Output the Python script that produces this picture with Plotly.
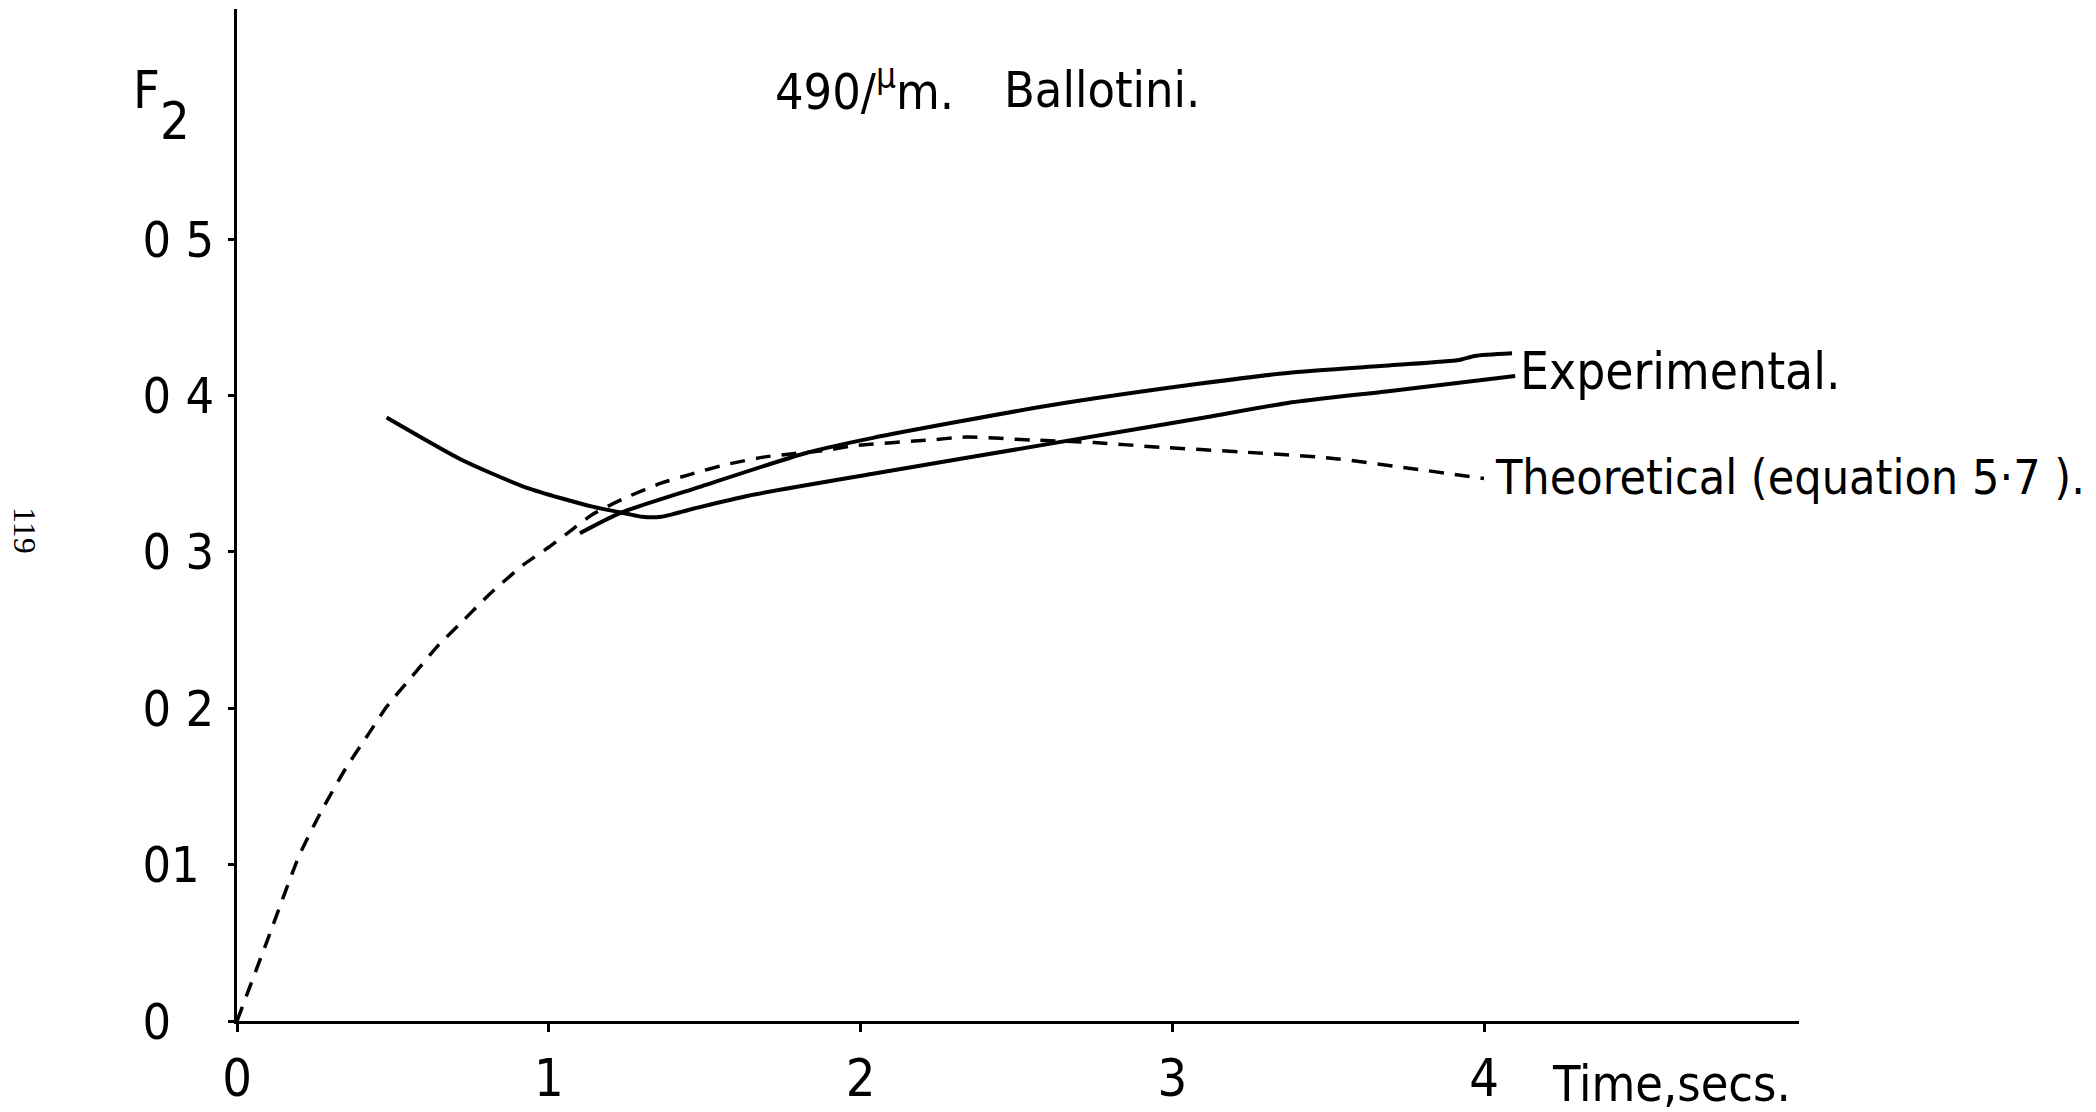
import plotly.graph_objects as go

# --- data -----------------------------------------------------------------
# Experimental run A: starts high, dips to a minimum near 1.3 s, then rises
exp_a_time = [0.48, 0.72, 0.93, 1.14, 1.25, 1.30, 1.36, 1.46, 1.64, 2.04, 2.60, 3.09, 3.37, 3.70, 4.10]
exp_a_f2 = [0.386, 0.359, 0.341, 0.329, 0.3245, 0.3225, 0.3225, 0.3275, 0.336, 0.350, 0.369, 0.3855, 0.3953, 0.403, 0.4126]

# Experimental run B: starts at 1.1 s and rises steadily
exp_b_time = [1.10, 1.23, 1.49, 1.82, 2.04, 2.60, 3.09, 3.37, 3.70, 3.92, 3.97, 4.09]
exp_b_f2 = [0.312, 0.325, 0.342, 0.363, 0.373, 0.3935, 0.4077, 0.4145, 0.4194, 0.4228, 0.4254, 0.4271]

# Theoretical curve (equation 5.7)
theory_time = [0, 0.10, 0.20, 0.27, 0.35, 0.42, 0.48, 0.56, 0.64, 0.73, 0.81, 0.92, 1.00, 1.06,
               1.14, 1.25, 1.36, 1.46, 1.57, 1.70, 1.79, 1.89, 1.98, 2.22, 2.34, 2.55, 2.75,
               2.96, 3.22, 3.51, 3.80, 4.00]
theory_f2 = [0, 0.053, 0.106, 0.134, 0.162, 0.183, 0.201, 0.220, 0.239, 0.257, 0.273, 0.292,
             0.303, 0.312, 0.324, 0.335, 0.344, 0.350, 0.356, 0.361, 0.363, 0.365, 0.368,
             0.3716, 0.3735, 0.3716, 0.370, 0.367, 0.364, 0.360, 0.3525, 0.347]

x_tick_vals = [0, 1, 2, 3, 4]
x_tick_text = ["0", "1", "2", "3", "4"]
y_tick_vals = [0, 0.1, 0.2, 0.3, 0.4, 0.5]
y_tick_text = ["0", "01", "0 2", "0 3", "0 4", "0 5"]

# --- layout geometry ------------------------------------------------------
W, H = 2096, 1112
ML, MR, MT, MB = 237, 297, 9, 91
PW, PH = W - ML - MR, H - MT - MB
X_MAX = PW / 311.75
Y_MAX = PH / 1563.4

FONT = "DejaVu Sans Condensed, Liberation Sans Narrow, Roboto, sans-serif"


def px_x(px):
    return (px - ML) / PW


def px_y(py):
    return (H - MB - py) / PH


# pad the tick labels with no-break spaces so they share a common left edge
NB = "\u00a0"


def pad(label):
    units = sum(1 if c == " " else 2 for c in label)
    return label.replace(" ", NB) + NB * (5 - units)


y_tick_text_padded = [pad(t) for t in y_tick_text]

fig = go.Figure()

line_style = dict(color="black", width=4, shape="spline", smoothing=0.6)

fig.add_trace(go.Scatter(x=exp_a_time, y=exp_a_f2, mode="lines", line=line_style,
                         name="Experimental", showlegend=False))
fig.add_trace(go.Scatter(x=exp_b_time, y=exp_b_f2, mode="lines", line=line_style,
                         name="Experimental", showlegend=False))
fig.add_trace(go.Scatter(x=theory_time, y=theory_f2, mode="lines",
                         line=dict(color="black", width=3.5, dash="15px,11px",
                                   shape="spline", smoothing=0.6),
                         name="Theoretical", showlegend=False))

annotations = [
    # series labels at the ends of the curves
    dict(x=4.109, y=0.4157, xref="x", yref="y", text="Experimental.",
         xanchor="left", yanchor="middle", showarrow=False, font=dict(size=51)),
    dict(x=4.030, y=0.3477, xref="x", yref="y", text="Theoretical (equation 5·7 ).",
         xanchor="left", yanchor="middle", showarrow=False, font=dict(size=48)),
    # title
    dict(x=px_x(773), y=px_y(88), xref="paper", yref="paper", text="490/<sup>μ</sup>m.",
         xanchor="left", yanchor="middle", showarrow=False, font=dict(size=50)),
    dict(x=px_x(1002), y=px_y(90), xref="paper", yref="paper", text="Ballotini.",
         xanchor="left", yanchor="middle", showarrow=False, font=dict(size=50)),
    # axis titles
    dict(x=px_x(1550), y=px_y(1084), xref="paper", yref="paper", text="Time,secs.",
         xanchor="left", yanchor="middle", showarrow=False, font=dict(size=50)),
    dict(x=px_x(131), y=px_y(90), xref="paper", yref="paper", text="F",
         xanchor="left", yanchor="middle", showarrow=False, font=dict(size=52)),
    dict(x=px_x(158), y=px_y(121), xref="paper", yref="paper", text="2",
         xanchor="left", yanchor="middle", showarrow=False, font=dict(size=52)),
    # page number
    dict(x=px_x(25), y=px_y(530), xref="paper", yref="paper", text="119", textangle=90,
         xanchor="center", yanchor="middle", showarrow=False,
         font=dict(size=32, family="Liberation Serif, DejaVu Serif, serif")),
]

fig.update_layout(
    width=W, height=H,
    margin=dict(l=ML, r=MR, t=MT, b=MB, pad=0, autoexpand=False),
    paper_bgcolor="white", plot_bgcolor="white",
    font=dict(family=FONT, color="black", size=50),
    showlegend=False,
    annotations=annotations,
    xaxis=dict(range=[0, X_MAX], showgrid=False, zeroline=False, showline=True,
               linecolor="black", linewidth=3, ticks="outside", ticklen=8, tickwidth=3,
               tickcolor="black", tickvals=x_tick_vals, ticktext=x_tick_text,
               ticklabelstandoff=2, tickfont=dict(size=52), fixedrange=True,
               automargin=False),
    yaxis=dict(range=[0, Y_MAX], showgrid=False, zeroline=False, showline=True,
               linecolor="black", linewidth=3, ticks="outside", ticklen=6, tickwidth=3,
               tickcolor="black", tickvals=y_tick_vals, ticktext=y_tick_text_padded,
               ticklabelstandoff=4, tickfont=dict(size=50), fixedrange=True,
               automargin=False),
)

fig.write_html("out.html")
